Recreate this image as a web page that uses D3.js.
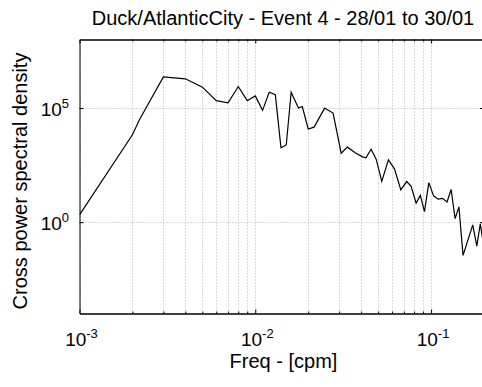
<!DOCTYPE html>
<html>
<head>
<meta charset="utf-8">
<script src="https://cdn.jsdelivr.net/npm/d3@7"></script>
<style>
  html, body { margin: 0; padding: 0; background: #fff; }
  svg { display: block; font-family: "Liberation Sans", Arial, Helvetica, sans-serif; }
</style>
</head>
<body>
<svg id="chart" width="482" height="387"></svg>
<script>
// Cross power spectral density, Duck / Atlantic City, event 4
const freq = [0.001, 0.002, 0.0022, 0.003, 0.004, 0.005, 0.006, 0.007, 0.008, 0.009,
  0.010, 0.011, 0.012, 0.013, 0.014, 0.015, 0.016, 0.0176, 0.0185, 0.020,
  0.0216, 0.0248, 0.0277, 0.0308, 0.0334, 0.0372, 0.0408, 0.0426, 0.0456, 0.0487,
  0.0524, 0.0572, 0.0619, 0.0673, 0.0726, 0.0770, 0.0822, 0.0869, 0.0917, 0.0971,
  0.1033, 0.1096, 0.1162, 0.1233, 0.130, 0.137, 0.144, 0.152, 0.1726, 0.182,
  0.1905, 0.2];
const psd = [2.1, 6700, 32000, 2.3e6, 1.9e6, 8.2e5, 2.1e5, 1.7e5, 8.7e5, 2.1e5,
  3.4e5, 7.9e4, 4.9e5, 3.8e5, 1800, 2400, 4.9e5, 1.0e5, 1.16e5, 1.2e4,
  1.45e4, 9.9e4, 6.0e4, 1050, 1930, 1080, 725, 655, 1580, 575,
  61, 535, 216, 26, 60, 37, 6.8, 14.9, 2.9, 54,
  14.2, 10.2, 11, 7.7, 27, 1.42, 4.7, 0.035, 0.76, 0.089,
  0.84, 0.075];

const xDomain = [0.001, 0.2];
const yDomain = [1e-4, 1e8];
const xTickExps = [-3, -2, -1];
const yTickExps = [0, 5];
const minorMultipliers = [2, 3, 4, 5, 6, 7, 8, 9];

const titleText = "Duck/AtlanticCity - Event 4 - 28/01 to 30/01";
const xLabelText = "Freq - [cpm]";
const yLabelText = "Cross power spectral density";

const plotLeft = 79.5, plotRight = 484, plotTop = 39.5, plotBottom = 313.5;

const svg = d3.select("#chart");
svg.append("rect").attr("width", 482).attr("height", 387).attr("fill", "#fff");

const x = d3.scaleLog().domain(xDomain).range([plotLeft, plotRight]);
const y = d3.scaleLog().domain(yDomain).range([plotBottom, plotTop]);

const xMajor = xTickExps.map(e => Math.pow(10, e));
const xMinor = [];
xTickExps.forEach(e => minorMultipliers.forEach(m => {
  const v = m * Math.pow(10, e);
  if (v <= xDomain[1]) xMinor.push(v);
}));
const yMajor = yTickExps.map(e => Math.pow(10, e));

// dotted grid
const grid = svg.append("g").attr("stroke", "#b4b4b4").attr("stroke-width", 1)
  .attr("stroke-dasharray", "1,2");
xMajor.concat(xMinor).forEach(v => {
  const px = Math.round(x(v)) + 0.5;
  grid.append("line").attr("x1", px).attr("x2", px).attr("y1", plotTop).attr("y2", plotBottom);
});
yMajor.forEach(v => {
  const py = Math.round(y(v)) + 0.5;
  grid.append("line").attr("x1", plotLeft).attr("x2", plotRight).attr("y1", py).attr("y2", py);
});

// spectrum curve
svg.append("clipPath").attr("id", "plotClip")
  .append("rect").attr("x", plotLeft).attr("y", plotTop)
  .attr("width", plotRight - plotLeft).attr("height", plotBottom - plotTop);
const line = d3.line().x((d, i) => x(freq[i])).y((d, i) => y(psd[i]));
svg.append("path")
  .datum(psd)
  .attr("clip-path", "url(#plotClip)")
  .attr("fill", "none")
  .attr("stroke", "#000")
  .attr("stroke-width", 1.2)
  .attr("stroke-linejoin", "miter")
  .attr("d", line);

// axes with inward ticks on all four sides
function styleAxis(g) {
  g.selectAll("path.domain").attr("stroke", "#000").attr("stroke-width", 1);
  g.selectAll(".tick line").attr("stroke", "#000").attr("stroke-width", 1);
  g.selectAll(".tick text").remove();
}
const fmtNone = () => "";
svg.append("g").attr("transform", `translate(0,${plotBottom})`)
  .call(d3.axisBottom(x).tickValues(xMajor).tickSize(-4).tickSizeOuter(0).tickFormat(fmtNone)).call(styleAxis);
svg.append("g").attr("transform", `translate(0,${plotBottom})`)
  .call(d3.axisBottom(x).tickValues(xMinor).tickSize(-2).tickSizeOuter(0).tickFormat(fmtNone)).call(styleAxis);
svg.append("g").attr("transform", `translate(0,${plotTop})`)
  .call(d3.axisTop(x).tickValues(xMajor).tickSize(-4).tickSizeOuter(0).tickFormat(fmtNone)).call(styleAxis);
svg.append("g").attr("transform", `translate(0,${plotTop})`)
  .call(d3.axisTop(x).tickValues(xMinor).tickSize(-2).tickSizeOuter(0).tickFormat(fmtNone)).call(styleAxis);
svg.append("g").attr("transform", `translate(${plotLeft},0)`)
  .call(d3.axisLeft(y).tickValues(yMajor).tickSize(-4).tickSizeOuter(0).tickFormat(fmtNone)).call(styleAxis);
svg.append("g").attr("transform", `translate(${plotRight},0)`)
  .call(d3.axisRight(y).tickValues(yMajor).tickSize(-4).tickSizeOuter(0).tickFormat(fmtNone)).call(styleAxis);

// power-of-ten tick labels
function powLabel(sel, exp) {
  sel.append("tspan").text("10");
  sel.append("tspan").attr("dy", -8).attr("font-size", 13).text(String(exp));
}
xTickExps.forEach(e => {
  svg.append("text")
    .attr("x", x(Math.pow(10, e)) + 2).attr("y", 346)
    .attr("text-anchor", "middle").attr("font-size", 19).attr("fill", "#000")
    .call(powLabel, e);
});
yTickExps.forEach(e => {
  svg.append("text")
    .attr("x", 69).attr("y", y(Math.pow(10, e)) + 8)
    .attr("text-anchor", "end").attr("font-size", 19).attr("fill", "#000")
    .call(powLabel, e);
});

// titles
svg.append("text").attr("x", 283).attr("y", 25).attr("text-anchor", "middle")
  .attr("font-size", 20).attr("fill", "#000").text(titleText);
svg.append("text").attr("x", 283.5).attr("y", 368).attr("text-anchor", "middle")
  .attr("font-size", 20).attr("fill", "#000").text(xLabelText);
svg.append("text").attr("transform", "translate(27,181) rotate(-90)").attr("text-anchor", "middle")
  .attr("font-size", 20).attr("fill", "#000").text(yLabelText);
</script>
</body>
</html>
